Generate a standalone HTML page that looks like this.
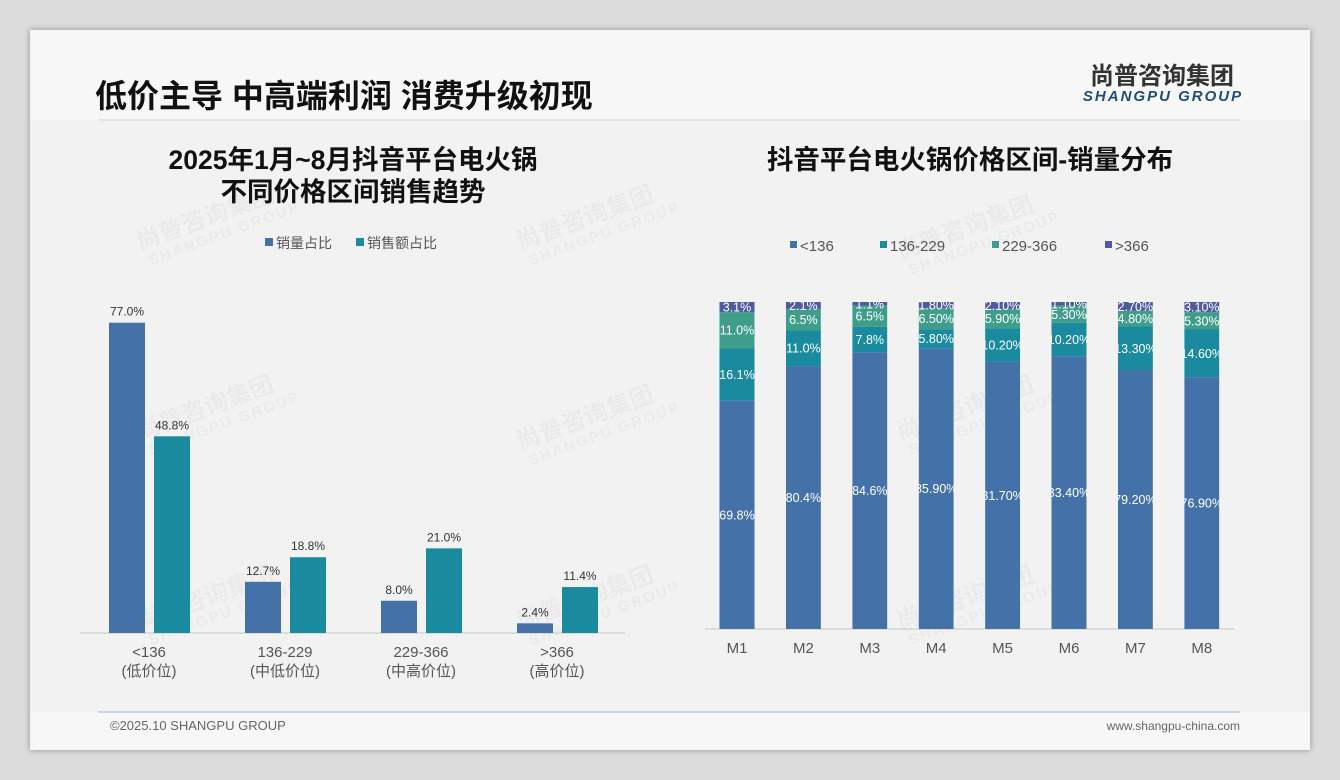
<!DOCTYPE html>
<html><head><meta charset="utf-8">
<style>
body{margin:0;width:1340px;height:780px;background:#dcdcdc;font-family:"Liberation Sans","Noto Sans CJK SC",sans-serif;overflow:hidden}
#slide{position:absolute;left:30px;top:30px;width:1280px;height:720px;background:#f7f7f7;box-shadow:0 0 6px rgba(0,0,0,.35)}
svg{position:absolute;left:0;top:0}
</style></head><body>
<div id="slide"></div>
<svg width="1340" height="780">
<rect x="30" y="120" width="1280" height="592" fill="#f2f2f2"/>
<text x="95" y="107" font-size="32" font-weight="bold" fill="#111">低价主导 中高端利润 消费升级初现</text>
<line x1="98" y1="120" x2="1240" y2="120" stroke="#d6d6d6"/>
<text x="1162" y="84" font-size="24" font-weight="bold" fill="#333" text-anchor="middle">尚普咨询集团</text>
<text x="1163" y="101" font-size="15" font-weight="bold" font-style="italic" fill="#1f4e79" text-anchor="middle" letter-spacing="2">SHANGPU GROUP</text>
<text x="353" y="169" font-size="26.5" font-weight="bold" fill="#111" text-anchor="middle">2025年1月~8月抖音平台电火锅</text>
<text x="353" y="201" font-size="26.5" font-weight="bold" fill="#111" text-anchor="middle">不同价格区间销售趋势</text>
<text x="970" y="169" font-size="26.5" font-weight="bold" fill="#111" text-anchor="middle">抖音平台电火锅价格区间-销量分布</text>
<g id="wm" fill="#000" opacity="0.035" font-weight="bold"></g>
<g id="left"></g>
<g id="right"></g>
<line x1="98" y1="712" x2="1240" y2="712" stroke="#9fb6d0"/>
<text x="110" y="730" font-size="13" fill="#666">©2025.10 SHANGPU GROUP</text>
<text x="1240" y="730" font-size="12" fill="#666" text-anchor="end">www.shangpu-china.com</text>
</svg>
<script>
const leftCats=["<136","136-229","229-366",">366"];
const leftSub=["(低价位)","(中低价位)","(中高价位)","(高价位)"];
const volShare=[77.0,12.7,8.0,2.4];
const salesShare=[48.8,18.8,21.0,11.4];
const months=["M1","M2","M3","M4","M5","M6","M7","M8"];
const s136=[69.8,80.4,84.6,85.9,81.7,83.4,79.2,76.9];
const s229=[16.1,11.0,7.8,5.8,10.2,10.2,13.3,14.6];
const s366=[11.0,6.5,6.5,6.5,5.9,5.3,4.8,5.3];
const sTop=[3.1,2.1,1.1,1.8,2.1,1.1,2.7,3.1];
const lbl136=["69.8%","80.4%","84.6%","85.90%","81.70%","83.40%","79.20%","76.90%"];
const lbl229=["16.1%","11.0%","7.8%","5.80%","10.20%","10.20%","13.30%","14.60%"];
const lbl366=["11.0%","6.5%","6.5%","6.50%","5.90%","5.30%","4.80%","5.30%"];
const lblTop=["3.1%","2.1%","1.1%","1.80%","2.10%","1.10%","2.70%","3.10%"];
const NS="http://www.w3.org/2000/svg";
function mk(p,t,a,txt){const e=document.createElementNS(NS,t);for(const k in a)e.setAttribute(k,a[k]);if(txt!=null)e.textContent=txt;p.appendChild(e);return e;}
const BLUE="#4472a8",TEAL="#1a8a9e",GREEN="#3f9e8a",PURP="#4f5aa0";
const wm=document.getElementById('wm');
[[140,250],[520,250],[900,260],[140,440],[520,450],[900,440],[140,630],[520,630],[900,630]].forEach(p=>{
 const g=mk(wm,'g',{transform:`translate(${p[0]},${p[1]}) rotate(-20)`});
 
 
 mk(g,'text',{'font-size':24,x:0,y:0},'尚普咨询集团');
 mk(g,'text',{'font-size':15,x:5,y:18,'letter-spacing':2},'SHANGPU GROUP');
});
const L=document.getElementById('left');
const base=633,k=4.03;
const lx=i=>149+136*i;
mk(L,'line',{x1:80,y1:base,x2:625,y2:base,stroke:'#c8c8c8'});
let lg=mk(L,'g',{});


mk(lg,'rect',{x:265,y:238,width:8,height:8,fill:BLUE});
mk(lg,'text',{x:276,y:248,'font-size':14,fill:'#555'},'销量占比');
mk(lg,'rect',{x:356,y:238,width:8,height:8,fill:TEAL});
mk(lg,'text',{x:367,y:248,'font-size':14,fill:'#555'},'销售额占比');
leftCats.forEach((c,i)=>{
 const cx=lx(i);
 const h1=volShare[i]*k,h2=salesShare[i]*k;
 const b1=mk(L,'rect',{x:cx-40,y:base-h1,width:36,height:h1,fill:BLUE});
 
 
 const b2=mk(L,'rect',{x:cx+5,y:base-h2,width:36,height:h2,fill:TEAL});
 
 
 mk(L,'text',{x:cx-22,y:base-h1-7,'font-size':12,fill:'#333','text-anchor':'middle'},volShare[i].toFixed(1)+'%');
 mk(L,'text',{x:cx+23,y:base-h2-7,'font-size':12,fill:'#333','text-anchor':'middle'},salesShare[i].toFixed(1)+'%');
 mk(L,'text',{x:cx,y:657,'font-size':15,fill:'#555','text-anchor':'middle'},c);
 mk(L,'text',{x:cx,y:676,'font-size':15,fill:'#555','text-anchor':'middle'},leftSub[i]);
});
const R=document.getElementById('right');
const rb=629,rh=327;
const rx=i=>737+66.4*i;
mk(R,'line',{x1:705,y1:rb,x2:1235,y2:rb,stroke:'#c8c8c8'});
const legs=[["<136",BLUE,790],["136-229",TEAL,880],["229-366",GREEN,992],[">366",PURP,1105]];
legs.forEach(l=>{
 const g=mk(R,'g',{});
 
 
 mk(g,'rect',{x:l[2],y:241,width:7,height:7,fill:l[1]});
 mk(g,'text',{x:l[2]+10,y:251,'font-size':15,fill:'#555'},l[0]);
});
const defs=mk(R,'defs',{});
months.forEach((m,i)=>{
 const cx=rx(i),x=cx-17.5;
 const cp=mk(defs,'clipPath',{id:'c'+i});
 mk(cp,'rect',{x:x,y:290,width:35,height:340});
 const segs=[[s136[i],BLUE,lbl136[i]],[s229[i],TEAL,lbl229[i]],[s366[i],GREEN,lbl366[i]],[sTop[i],PURP,lblTop[i]]];
 const tot=segs.reduce((a,s)=>a+s[0],0);
 let y=rb;
 const g=mk(R,'g',{'clip-path':`url(#c${i})`});
 
 
 segs.forEach(s=>{
  const h=s[0]/tot*rh;
  const r=mk(g,'rect',{x:x,y:y-h,width:35,height:h,fill:s[1]});
  
  
  mk(g,'text',{x:cx,y:y-h/2+4.5,'font-size':12.5,fill:'#fff','text-anchor':'middle'},s[2]);
  y-=h;
 });
 mk(R,'text',{x:cx,y:653,'font-size':15,fill:'#555','text-anchor':'middle'},m);
});
</script>
</body></html>
